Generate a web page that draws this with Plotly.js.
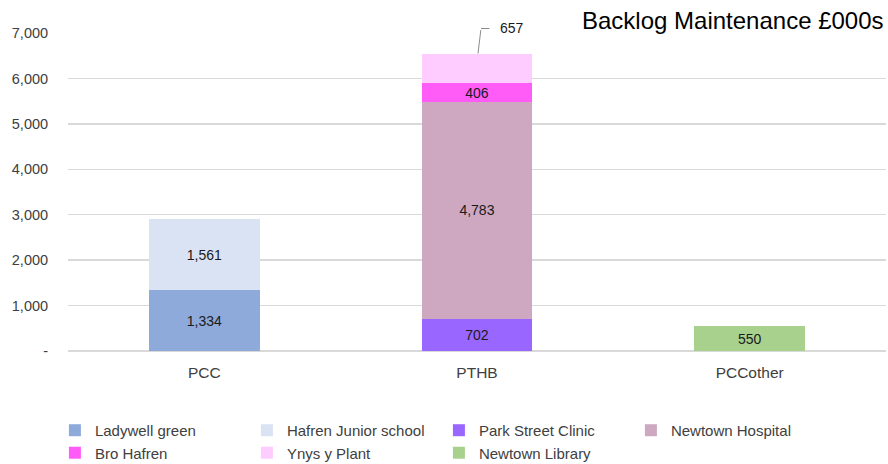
<!DOCTYPE html>
<html>
<head>
<meta charset="utf-8">
<script src="https://cdn.plot.ly/plotly-3.0.1.min.js"></script>
<style>html,body{margin:0;padding:0;background:#fff;}#chart{width:888px;height:464px;}</style>
</head>
<body>
<div id="chart"></div>
<script>
const categories = ['PCC', 'PTHB', 'PCCother'];
const seriesNames = ['Ladywell green', 'Hafren Junior school', 'Park Street Clinic', 'Newtown Hospital', 'Bro Hafren', 'Ynys y Plant', 'Newtown Library'];
const ladywellGreen = [1334, null, null];
const hafrenJuniorSchool = [1561, null, null];
const parkStreetClinic = [null, 702, null];
const newtownHospital = [null, 4783, null];
const broHafren = [null, 406, null];
const ynysYPlant = [null, 657, null];
const newtownLibrary = [null, null, 550];
const seriesColors = ['#8eaadb', '#dae3f3', '#9966ff', '#cda8c0', '#ff5cf7', '#ffccff', '#a9d18e'];
const yTickVals = [0, 1000, 2000, 3000, 4000, 5000, 6000, 7000];
const yTickText = ['-', '1,000', '2,000', '3,000', '4,000', '5,000', '6,000', '7,000'];
const chartTitle = 'Backlog Maintenance £000s';

const FONT = '"Liberation Sans", Arial, sans-serif';
const allSeries = [ladywellGreen, hafrenJuniorSchool, parkStreetClinic, newtownHospital, broHafren, ynysYPlant, newtownLibrary];
const fmt = v => v == null ? '' : v.toLocaleString('en-US');

const traces = allSeries.map((vals, i) => ({
  type: 'bar',
  name: seriesNames[i],
  x: categories,
  y: vals,
  marker: {color: seriesColors[i]},
  text: seriesNames[i] === 'Ynys y Plant' ? vals.map(() => '') : vals.map(fmt),
  textposition: 'inside',
  insidetextanchor: 'middle',
  textfont: {family: FONT, size: 14, color: '#1a1a1a'},
  hoverinfo: 'x+y+name'
}));

// total of PTHB for outside label of Ynys y Plant
const pthbIdx = categories.indexOf('PTHB');
const pthbTotal = [parkStreetClinic, newtownHospital, broHafren, ynysYPlant].reduce((s, a) => s + (a[pthbIdx] || 0), 0);

const layout = {
  width: 888, height: 464,
  margin: {l: 68, r: 2, t: 33, b: 113, autoexpand: false},
  barmode: 'stack',
  bargap: 0.595,
  paper_bgcolor: '#fff',
  plot_bgcolor: '#fff',
  font: {family: FONT, size: 14, color: '#404040'},
  showlegend: true,
  uniformtext: {mode: 'show', minsize: 14},
  xaxis: {
    type: 'category',
    tickfont: {family: FONT, size: 15.5, color: '#404040'},
    ticks: 'outside', ticklen: 7, tickcolor: 'rgba(0,0,0,0)',
    showgrid: false, zeroline: false, showline: false,
    fixedrange: true
  },
  yaxis: {
    range: [0, 7000],
    tickvals: yTickVals,
    ticktext: yTickText,
    tickfont: {family: FONT, size: 14.5, color: '#404040'},
    ticks: 'outside', ticklen: 16, tickcolor: 'rgba(0,0,0,0)',
    showgrid: true, gridcolor: '#d9d9d9', gridwidth: 1.5,
    zeroline: true, zerolinecolor: '#d9d9d9', zerolinewidth: 1.5,
    showline: false,
    fixedrange: true
  },
  legend: {
    orientation: 'h',
    x: -0.016, xanchor: 'left',
    y: -0.198, yanchor: 'top',
    entrywidth: 147, entrywidthmode: 'pixels',
    traceorder: 'normal',
    font: {family: FONT, size: 15, color: '#404040'},
    itemclick: false, itemdoubleclick: false,
    tracegroupgap: 0
  },
  annotations: [
    {xref: 'paper', yref: 'paper', x: 1.0, y: 1.0, xanchor: 'right', yanchor: 'middle', yshift: 13,
     text: chartTitle, showarrow: false, font: {family: FONT, size: 24, color: '#000'}},
    {x: 'PTHB', y: pthbTotal, text: '', showarrow: true, arrowhead: 0, arrowwidth: 1, arrowcolor: '#8c8c8c',
     ax: 3, ay: -25, xshift: 1},
    {x: 'PTHB', y: pthbTotal, text: '', showarrow: true, arrowhead: 0, arrowwidth: 1, arrowcolor: '#8c8c8c',
     ax: 10, ay: 0, xshift: 4, yshift: 25},
    {x: 'PTHB', y: pthbTotal, text: fmt(ynysYPlant[pthbIdx]), showarrow: false, xanchor: 'left', yanchor: 'middle',
     xshift: 21, yshift: 26, font: {family: FONT, size: 14, color: '#1a1a1a'}}
  ]
};

Plotly.newPlot('chart', traces, layout, {displayModeBar: false, staticPlot: true});
</script>
</body>
</html>
